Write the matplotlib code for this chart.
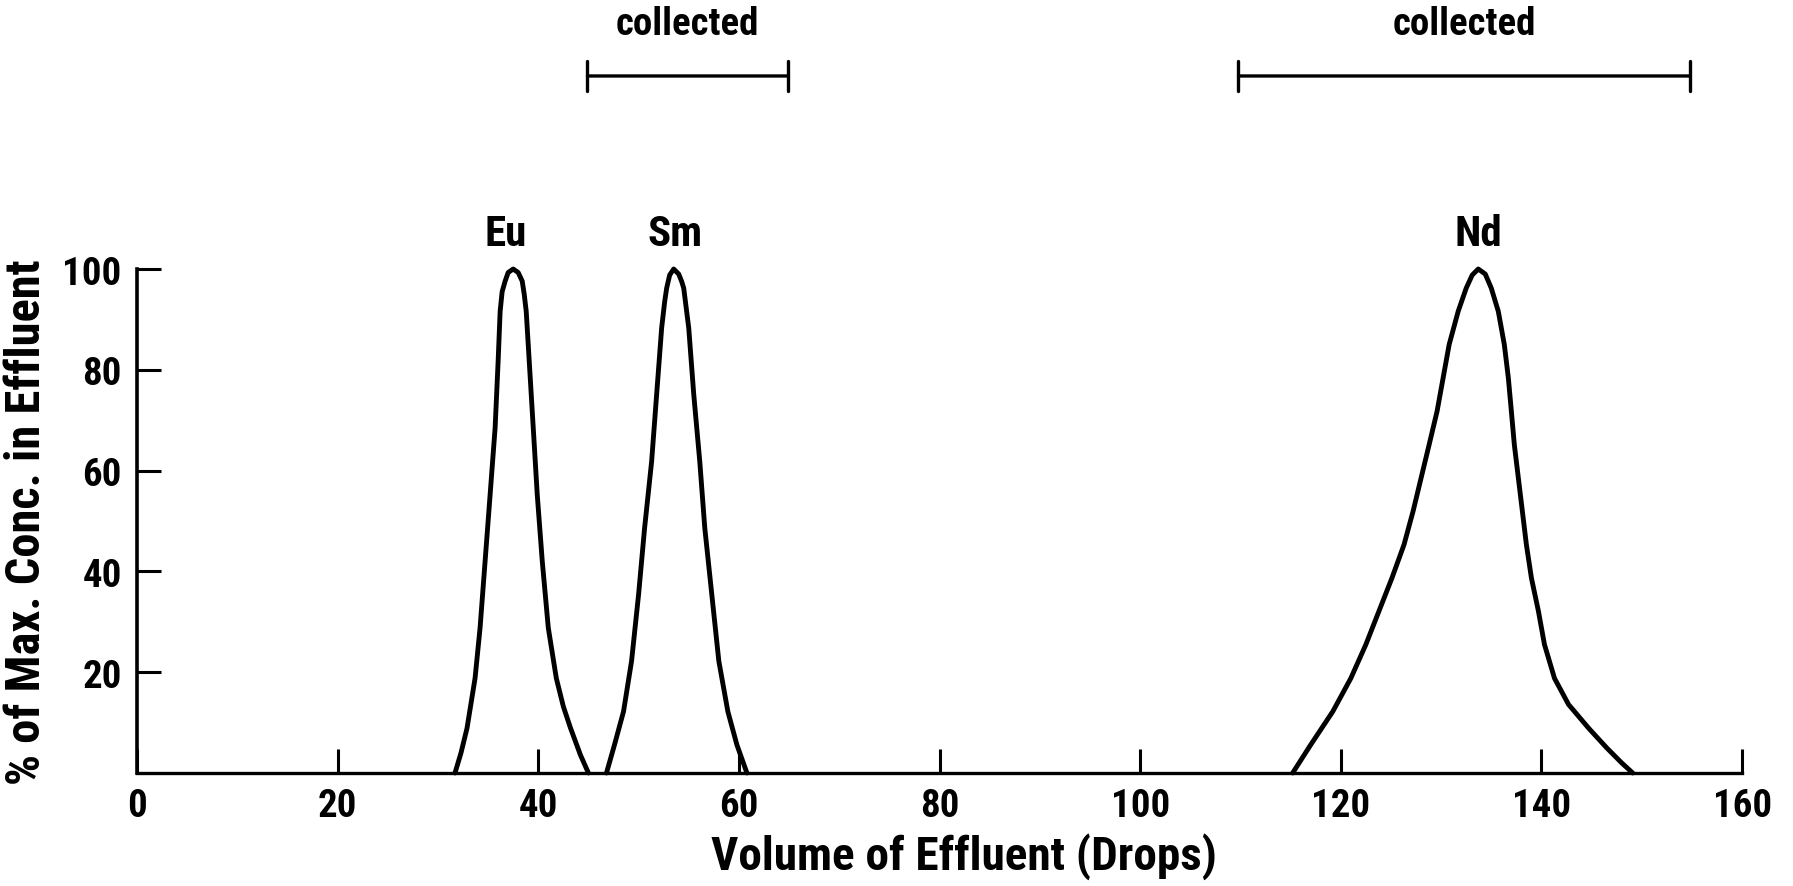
import matplotlib.pyplot as plt
from matplotlib import font_manager

# the original lettering is a narrow sans; use a condensed face when one is installed
installed = {f.name for f in font_manager.fontManager.ttflist}
narrow = [n for n in ['Liberation Sans Narrow', 'DejaVu Sans Condensed', 'Roboto Condensed',
                      'Noto Sans Condensed', 'Open Sans Condensed'] if n in installed]
plt.rcParams['font.family'] = narrow[:1] + ['DejaVu Sans']
plt.rcParams['font.weight'] = 'bold'
plt.rcParams['axes.labelweight'] = 'bold'

# peak traces: (drops, % of max conc.)
eu_x = [31.7, 32.3, 32.9, 33.7, 34.2, 34.7, 35.2, 35.7, 36.0, 36.2, 36.4, 36.7, 37.0, 37.5,
        38.0, 38.4, 38.6, 38.8, 39.1, 39.5, 39.9, 40.4, 41.0, 41.8, 42.5, 43.2, 44.2, 45.0]
eu_y = [0, 4, 8.9, 18.8, 28.8, 42, 55.2, 68.5, 81.7, 91.6, 95.5, 97.6, 99.3, 100,
        99.3, 97.6, 95, 91.6, 81.7, 68.5, 55.2, 42, 28.8, 18.8, 13.2, 9.0, 3.6, 0]

sm_x = [46.8, 47.6, 48.5, 49.3, 50.0, 50.6, 51.3, 51.8, 52.3, 52.6, 52.8, 53.1, 53.5,
        54.0, 54.3, 54.5, 55.0, 55.5, 56.1, 56.6, 57.3, 58.0, 58.9, 59.8, 60.8]
sm_y = [0, 5.6, 12.2, 22.2, 35.4, 48.6, 61.8, 75.1, 88.3, 93.5, 96.2, 98.8, 100,
        99, 97.5, 96.2, 88.3, 75.1, 61.8, 48.6, 35.4, 22.2, 12.2, 5.6, 0]

nd_x = [115.2, 117.0, 119.2, 121.0, 122.5, 123.8, 125.1, 126.3, 127.2, 128.0, 128.8,
        129.6, 130.2, 130.8, 131.7, 132.5, 133.1, 133.7, 134.4, 135.0, 135.7, 136.3,
        136.7, 137.0, 137.3, 137.7, 138.1, 138.5, 139.0, 139.7, 140.3, 141.3, 142.7,
        144.7, 146.5, 148.0, 149.1]
nd_y = [0, 5.6, 12.2, 18.8, 25.5, 32.1, 38.7, 45.3, 51.9, 58.5, 65.1,
        71.8, 78.4, 85, 91.6, 96.2, 98.8, 100, 99, 96.2, 91.6, 85,
        78.4, 71.8, 65.1, 58.5, 51.9, 45.3, 38.7, 32.1, 25.5, 18.8, 13.6,
        8.9, 5, 2, 0]

peak_names = ['Eu', 'Sm', 'Nd']
peak_pos = [36.8, 53.6, 133.7]

collected_ranges = [(44.9, 64.9), (109.8, 154.8)]

x_ticks = [0, 20, 40, 60, 80, 100, 120, 140, 160]
y_ticks = [20, 40, 60, 80, 100]

fig = plt.figure(figsize=(17.93, 8.87), dpi=100)
ax = fig.add_axes([0.0764, 0.1274, 0.8952, 0.5682])

for xs, ys in [(eu_x, eu_y), (sm_x, sm_y), (nd_x, nd_y)]:
    ax.plot(xs, ys, color='black', lw=3.5, solid_capstyle='round', solid_joinstyle='round', clip_on=False)

for name, xp in zip(peak_names, peak_pos):
    ax.text(xp, 107, name, ha='center', va='center', fontsize=31)

for a, b in collected_ranges:
    ax.annotate('', xy=(a, 138.3), xytext=(b, 138.3), annotation_clip=False,
                arrowprops=dict(arrowstyle='|-|,widthA=1.05,widthB=1.05', lw=2.4,
                                color='black', shrinkA=0, shrinkB=0))
    ax.text((a + b) / 2, 148.7, 'collected', ha='center', va='center', fontsize=28)

ax.set_xlim(0, 160)
ax.set_ylim(0, 100)
ax.set_xticks(x_ticks)
ax.set_yticks(y_ticks)
ax.spines['top'].set_visible(False)
ax.spines['right'].set_visible(False)
ax.spines['left'].set_linewidth(2.6)
ax.spines['bottom'].set_linewidth(2.4)
ax.tick_params(axis='both', direction='in', length=17, width=2.2, labelsize=28)
ax.tick_params(axis='x', pad=10)
ax.tick_params(axis='y', pad=11)

ax.set_xlabel('Volume of Effluent (Drops)', fontsize=34)
ax.set_ylabel('% of Max. Conc. in Effluent', fontsize=35)
ax.xaxis.set_label_coords(0.515, -0.118)
ax.yaxis.set_label_coords(-0.054, 0.5)

fig.savefig('out.png', dpi=100)
